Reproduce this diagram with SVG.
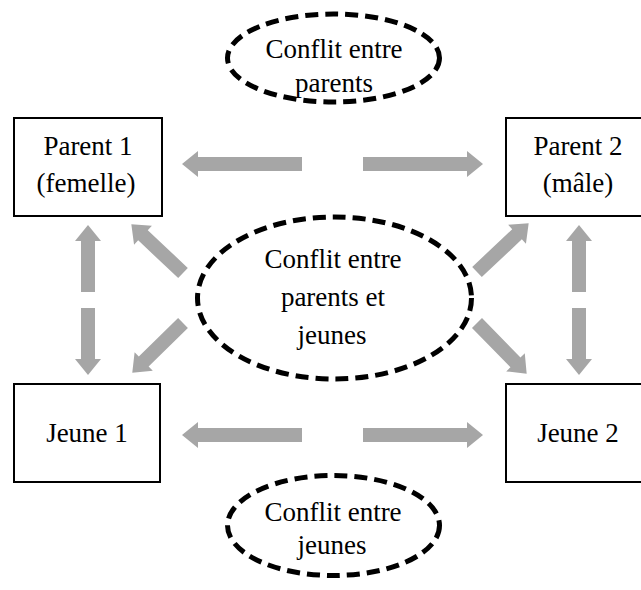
<svg xmlns="http://www.w3.org/2000/svg" width="641" height="590" viewBox="0 0 641 590">
<style>
.box{fill:#fff;stroke:#000;stroke-width:2}
.conf{fill:#fff;stroke:#000;stroke-width:5;stroke-dasharray:13 7}
.arr{fill:#a6a6a6}
text{font-family:"Liberation Serif","Times New Roman",serif;font-size:27px;fill:#000;text-anchor:middle}
</style>
<defs>
<path id="a120" d="M0,-7 H104 V-13 L120,0 L104,13 V7 H0 Z"/>
<path id="a67" d="M0,-7 H51 V-13 L67,0 L51,13 V7 H0 Z"/>
<path id="a71" d="M0,-7 H55 V-13 L71,0 L55,13 V7 H0 Z"/>
</defs>
<rect width="641" height="590" fill="#fff"/>
<g id="connectors" class="arr">
<use href="#a120" transform="translate(302,164) rotate(180)"/>
<use href="#a120" transform="translate(363,164)"/>
<use href="#a120" transform="translate(302,435) rotate(180)"/>
<use href="#a120" transform="translate(363,435)"/>
<use href="#a67" transform="translate(88,292) rotate(-90)"/>
<use href="#a67" transform="translate(88,308) rotate(90)"/>
<use href="#a67" transform="translate(579,292) rotate(-90)"/>
<use href="#a67" transform="translate(579,308) rotate(90)"/>
<use href="#a71" transform="translate(183,273) rotate(-136.7)"/>
<use href="#a71" transform="translate(183,323) rotate(135.6)"/>
<use href="#a71" transform="translate(477,272) rotate(-43.3)"/>
<use href="#a71" transform="translate(477,323) rotate(45.6)"/>
</g>
<g id="conflit-parents">
<ellipse class="conf" cx="333.5" cy="58" rx="106" ry="44"/>
<text x="334" y="58">Conflit entre</text>
<text x="334" y="92">parents</text>
</g>
<g id="conflit-parents-jeunes">
<ellipse class="conf" cx="334.5" cy="298" rx="137" ry="81"/>
<text x="333" y="268">Conflit entre</text>
<text x="333" y="306">parents et</text>
<text x="332" y="344">jeunes</text>
</g>
<g id="conflit-jeunes">
<ellipse class="conf" cx="333.5" cy="525.5" rx="106" ry="50"/>
<text x="333" y="521">Conflit entre</text>
<text x="332" y="554">jeunes</text>
</g>
<g id="parent1">
<rect class="box" x="14" y="118" width="148" height="98"/>
<text x="88" y="155">Parent 1</text>
<text x="86" y="192">(femelle)</text>
</g>
<g id="parent2">
<rect class="box" x="506" y="118" width="148" height="98"/>
<text x="578" y="155">Parent 2</text>
<text x="578" y="192">(mâle)</text>
</g>
<g id="jeune1">
<rect class="box" x="14" y="384" width="146" height="98"/>
<text x="87" y="442">Jeune 1</text>
</g>
<g id="jeune2">
<rect class="box" x="506" y="384" width="148" height="98"/>
<text x="578" y="442">Jeune 2</text>
</g>
</svg>
